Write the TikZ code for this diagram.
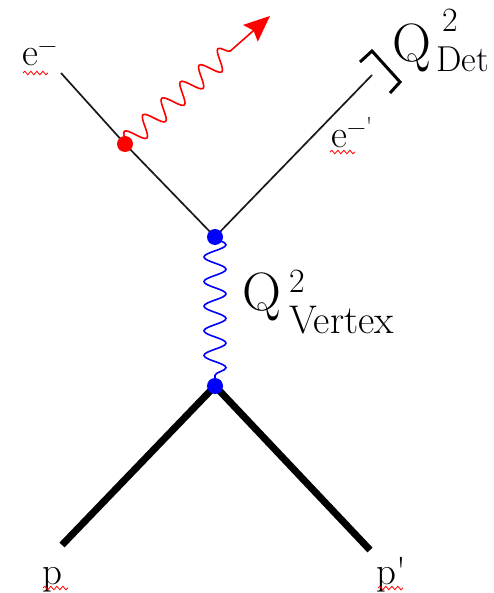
\documentclass[tikz,border=0pt]{standalone}
\usepackage{fontspec}
\usetikzlibrary{decorations.pathmorphing, arrows.meta}
\pgfdeclarelayer{bg}
\pgfsetlayers{bg,main}
\begin{document}
\begin{tikzpicture}[x=1pt,y=-1pt,
  dot/.style={circle, inner sep=0pt, minimum size=16pt},
  fermion/.style={line width=1.7pt, black!90},
  proton/.style={line width=7pt},
  lbl/.style={anchor=base west, inner sep=0pt, font=\fontsize{39}{42}\selectfont},
  bigQ/.style={anchor=base west, inner sep=0pt, font=\fontsize{54}{58}\selectfont},
  supscr/.style={anchor=base west, inner sep=0pt, font=\fontsize{34}{38}\selectfont},
  subscr/.style={anchor=base west, inner sep=0pt, font=\fontsize{40}{44}\selectfont},
  squig/.style={red, line width=0.8pt, decorate, decoration={snake, segment length=6pt, amplitude=1.8pt}},
  wavy/.style={line width=1.6pt, decorate},
]
\useasboundingbox (0,0) rectangle (494,593);
% vertices
\node[dot, fill=blue] (v1) at (215,237) {};
\node[dot, fill=blue] (v2) at (215,386) {};
\node[dot, fill=red] (rd) at (125,144) {};
\coordinate (ein) at (61,73);
\coordinate (eout) at (372,75);
\coordinate (gtip) at (270,16);
\coordinate (pin) at (62,545);
\coordinate (pout) at (370,550);
\coordinate (b1) at (360,62);
\coordinate (b2) at (372,51);
\coordinate (b3) at (400,82);
\coordinate (b4) at (390,93);
\begin{pgfonlayer}{bg}
  \draw[fermion] (ein) -- (rd.center) -- (v1.center) -- (eout);
  \draw[proton] (pin) -- (v2.center) -- (pout);
  \draw[wavy, blue, decoration={snake, segment length=24.6pt, amplitude=11pt}] (v1.center) -- (v2.center);
  \draw[wavy, red, -{Stealth[length=26pt, width=22pt, inset=4pt]},
        decoration={snake, segment length=25pt, amplitude=10pt, post length=42pt}] (rd.center) -- (gtip);
\end{pgfonlayer}
% detector bracket
\draw[line width=3pt] (b1) -- (b2) -- (b3) -- (b4);
% labels
\node[lbl] (lem) at (22,66) {e\raisebox{12pt}{\fontsize{26}{26}\selectfont −}};
\node[lbl] (lep) at (331,148) {e\raisebox{12pt}{\fontsize{26}{26}\selectfont −\textquotesingle}};
\node[lbl] (lp) at (42,584) {p};
\node[lbl] (lpp) at (376,584) {p\textquotesingle};
\node[bigQ] (qv) at (242,310) {Q};
\node[supscr] (qv2) at (289,292) {2};
\node[subscr] (qvs) at (289,333) {Vertex};
\node[bigQ] (qd) at (392,62) {Q};
\node[supscr] (qd2) at (442,32) {2};
\node[subscr, font=\fontsize{36}{40}\selectfont] (qds) at (436,72) {Det};
% spell-check marks
\draw[squig] (23,73) -- (48,73);
\draw[squig] (330,152) -- (355,152);
\draw[squig] (43,588) -- (68,588);
\draw[squig] (378,588) -- (403,588);
\end{tikzpicture}
\end{document}
